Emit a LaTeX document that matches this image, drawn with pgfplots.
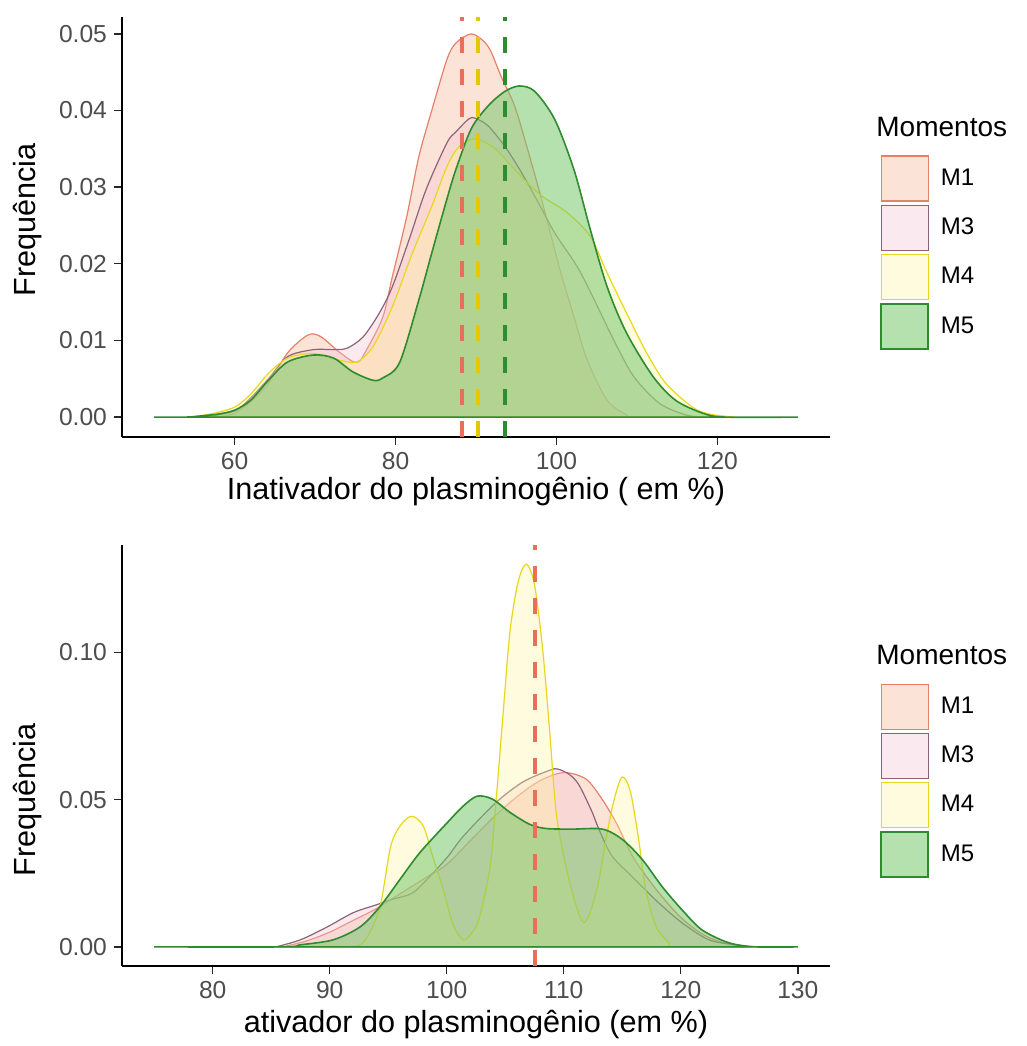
\documentclass[border=0pt]{standalone}
\usepackage{fontspec}
\setmainfont{Liberation Sans}
\usepackage{pgfplots}
\pgfplotsset{compat=1.18}

\definecolor{m1line}{HTML}{E5806B}
\definecolor{m1fill}{HTML}{F8B89A}
\definecolor{m3line}{HTML}{8C6478}
\definecolor{m3fill}{HTML}{F2C4D2}
\definecolor{m4line}{HTML}{E8D81C}
\definecolor{m4fill}{HTML}{FFF3A0}
\definecolor{m5line}{HTML}{2E8B2E}
\definecolor{m5fill}{HTML}{78C86E}
\definecolor{vred}{HTML}{E8705A}
\definecolor{vyel}{HTML}{E6C800}
\definecolor{vgrn}{HTML}{2E8B2E}
\definecolor{ticktxt}{HTML}{4D4D4D}

\pgfplotsset{
  dens/.style={
    scale only axis, width=354pt,
    axis x line*=bottom, axis y line*=left,
    axis line style={-, black, line width=0.8pt},
    tick align=outside, major tick length=4pt,
    tick style={black!85, line width=0.7pt},
    ticklabel style={font=\fontsize{12.3}{12.3}\selectfont, text=ticktxt},
    /pgf/number format/assume math mode=true,
    every axis x label/.style={font=\fontsize{15.3}{16}\selectfont},
    every axis y label/.style={rotate=90, anchor=center, font=\fontsize{15.3}{16}\selectfont},
    clip mode=individual,
    legend style={draw=none, fill=none, inner sep=0pt, row sep=1.5pt,
      column sep=5pt, anchor=north west,
      font=\fontsize{12}{12}\selectfont,
      nodes={inner sep=1pt}},
    legend cell align=left,
    legend image code/.code={\draw[##1] (0pt,-11.25pt) rectangle (23.5pt,11.25pt);},
  },
  m1/.style={smooth, tension=0.5, draw=m1line, line width=0.6pt, fill=m1fill, fill opacity=0.4},
  m3/.style={smooth, tension=0.5, draw=m3line, line width=0.6pt, fill=m3fill, fill opacity=0.35},
  m4/.style={smooth, tension=0.5, draw=m4line, line width=0.6pt, fill=m4fill, fill opacity=0.35},
  m5/.style={smooth, tension=0.5, draw=m5line, line width=0.8pt, fill=m5fill, fill opacity=0.55},
  vl/.style={forget plot, line width=2pt, dash pattern=on 8pt off 8pt},
}

\begin{document}
\begin{tikzpicture}
\path (0,0) rectangle (513.5pt,-523pt);

% ---------- top panel ----------
\begin{axis}[dens,
    at={(61pt,-218.5pt)}, anchor=south west, height=210pt,
    xmin=46, xmax=134, ymin=-0.0026, ymax=0.0522,
    xtick={60,80,100,120},
    ytick={0,0.01,0.02,0.03,0.04,0.05},
    scaled y ticks=false,
    yticklabel style={/pgf/number format/.cd, fixed, fixed zerofill, precision=2},
    xlabel={Inativador do plasminogênio ( em \%)},
    ylabel={Frequência},
    xlabel style={at={(axis description cs:0.5,-0.131)}, anchor=center},
    ylabel style={at={(axis description cs:-0.134,0.517)}},
    legend style={at={(axis description cs:1.0706,0.6714)}},
]
\addplot[m1] table {
58.0 0
60 0.0005
62 0.0020
64.2 0.0044
66.6 0.0084
69.1 0.0107
70.7 0.0105
73.1 0.0084
75.2 0.0071
76.4 0.0088
78.4 0.0130
79.6 0.0183
81.4 0.0262
82.9 0.0340
84.5 0.0400
86.4 0.0467
87.5 0.0488
89.4 0.0500
91.0 0.0490
91.9 0.0476
93.1 0.0445
94.8 0.0406
96.4 0.0350
98.0 0.0290
99.0 0.0250
100.5 0.0190
102.2 0.0130
103.8 0.0075
106.3 0.0022
108.7 0.0003
109.5 0
118.5 0
} \closedcycle;
\addlegendentry{M1}
\addplot[m3] table {
56.5 0
60 0.0008
62 0.0025
64.2 0.0050
66.6 0.0079
69.8 0.0088
72.3 0.0088
74.0 0.0090
76.0 0.0105
78.0 0.0136
79.6 0.0170
81.7 0.0232
83.8 0.0297
86.4 0.0358
87.5 0.0372
89.1 0.0389
89.9 0.0390
91.5 0.0380
93.6 0.0353
95.6 0.0320
98.0 0.0275
99.8 0.0240
102.6 0.0196
104.7 0.0153
107.1 0.0101
109.6 0.0053
112.8 0.0018
116.0 0.0003
118.0 0
} \closedcycle;
\addlegendentry{M3}
\addplot[m4] table {
54.4 0
57 0.0004
60 0.0013
62 0.0030
64.2 0.0057
66.6 0.0077
69.8 0.0083
73.1 0.0074
75.2 0.0072
77.2 0.0092
79.6 0.0144
82.1 0.0214
84.5 0.0275
86.4 0.0327
87.9 0.0353
89.9 0.0363
92.4 0.0350
94.8 0.0323
98.0 0.0290
101.3 0.0267
104.2 0.0236
106.3 0.0188
108.7 0.0136
111.2 0.0084
113.6 0.0044
116.9 0.0013
119.0 0.0004
122.0 0
} \closedcycle;
\addlegendentry{M4}
\addplot[m5] table {
50 0
54 0
56.3 0.0002
58 0.0004
60 0.0009
62 0.0022
64.2 0.0048
66.6 0.0072
69.8 0.0081
72.3 0.0077
74.7 0.0059
77.2 0.0048
78.4 0.0051
80.5 0.0071
82.9 0.0153
84.5 0.0214
86.4 0.0285
87.5 0.0323
89.4 0.0376
91.5 0.0406
93.6 0.0425
95.4 0.0432
97.3 0.0425
99.8 0.0388
102.2 0.0322
104.2 0.0245
106.3 0.0170
108.7 0.0110
112.0 0.0053
114.8 0.0022
118.2 0.0005
121.0 0
130 0
} \closedcycle;
\addlegendentry{M5}
\addplot[vl, vred] coordinates {(88.2,-0.0026) (88.2,0.0522)};
\addplot[vl, vyel] coordinates {(90.3,-0.0026) (90.3,0.0522)};
\addplot[vl, vgrn] coordinates {(93.6,-0.0026) (93.6,0.0522)};
\end{axis}
\node[anchor=west, inner sep=0pt, font=\fontsize{14}{14}\selectfont] at (438pt,-63.5pt) {Momentos};

% ---------- bottom panel ----------
\begin{axis}[dens,
    at={(61pt,-483pt)}, anchor=south west, height=210.5pt,
    xmin=72.25, xmax=132.75, ymin=-0.0065, ymax=0.1365,
    xtick={80,90,100,110,120,130},
    ytick={0,0.05,0.10},
    scaled y ticks=false,
    yticklabel style={/pgf/number format/.cd, fixed, fixed zerofill, precision=2},
    xlabel={ativador do plasminogênio (em \%)},
    ylabel={Frequência},
    xlabel style={at={(axis description cs:0.5,-0.140)}, anchor=center},
    ylabel style={at={(axis description cs:-0.134,0.394)}},
    legend style={at={(axis description cs:1.0706,0.672)}},
]
\addplot[m1] table {
86 0
88 0.0020
90 0.0050
92 0.0090
94 0.0130
96 0.0180
98 0.0230
100 0.0280
102 0.0360
104 0.0440
106 0.0510
108 0.0565
110 0.0592
111.9 0.0570
113.3 0.0500
114.5 0.0420
116 0.0300
118 0.0190
120 0.0100
122 0.0040
124 0.0010
126 0
} \closedcycle;
\addlegendentry{M1}
\addplot[m3] table {
85.4 0
87.5 0.0024
89.8 0.0068
92.0 0.0116
94.0 0.0143
95.2 0.0160
97.1 0.0184
98.8 0.0250
100.1 0.0307
101.4 0.0375
104.2 0.0490
106.5 0.0560
108.8 0.0600
109.5 0.0604
110.5 0.0585
111.3 0.0550
112.4 0.0460
113.0 0.0400
114.1 0.0310
115.8 0.0240
118.1 0.0150
120.1 0.0082
122.4 0.0024
124.7 0.0007
126 0
} \closedcycle;
\addlegendentry{M3}
\addplot[m4] table {
87 0
92 0
93.2 0.0034
94.3 0.0137
95.2 0.0340
96.0 0.0410
97.0 0.0444
98.0 0.0410
98.8 0.0307
99.7 0.0195
100.5 0.0080
101.4 0.0024
102.2 0.0050
102.8 0.0100
103.7 0.0270
104.2 0.0490
104.8 0.0785
105.4 0.1070
106.1 0.1240
106.8 0.1300
107.5 0.1230
108.2 0.1010
108.8 0.0730
109.4 0.0440
110.5 0.0220
111.7 0.0082
112.8 0.0190
113.6 0.0365
114.3 0.0500
115.0 0.0577
115.7 0.0526
116.4 0.0365
117.0 0.0195
117.9 0.0068
119.0 0.0014
119.6 0
126.5 0
} \closedcycle;
\addlegendentry{M4}
\addplot[m5] table {
75 0
86 0
87.5 0.0007
90.3 0.0024
92.6 0.0068
94.3 0.0137
96.0 0.0229
97.7 0.0320
100.0 0.0420
101.4 0.0478
102.6 0.0512
103.9 0.0502
105.4 0.0457
107.1 0.0416
108.5 0.0402
110.7 0.0400
113.3 0.0400
115.0 0.0365
116.7 0.0297
118.4 0.0205
120.1 0.0126
121.8 0.0058
124.1 0.0014
126.4 0
130 0
} \closedcycle;
\addlegendentry{M5}
\addplot[vl, vred] coordinates {(107.5,-0.0065) (107.5,0.1365)};
\end{axis}
\node[anchor=west, inner sep=0pt, font=\fontsize{14}{14}\selectfont] at (438pt,-327.5pt) {Momentos};
\end{tikzpicture}
\end{document}
